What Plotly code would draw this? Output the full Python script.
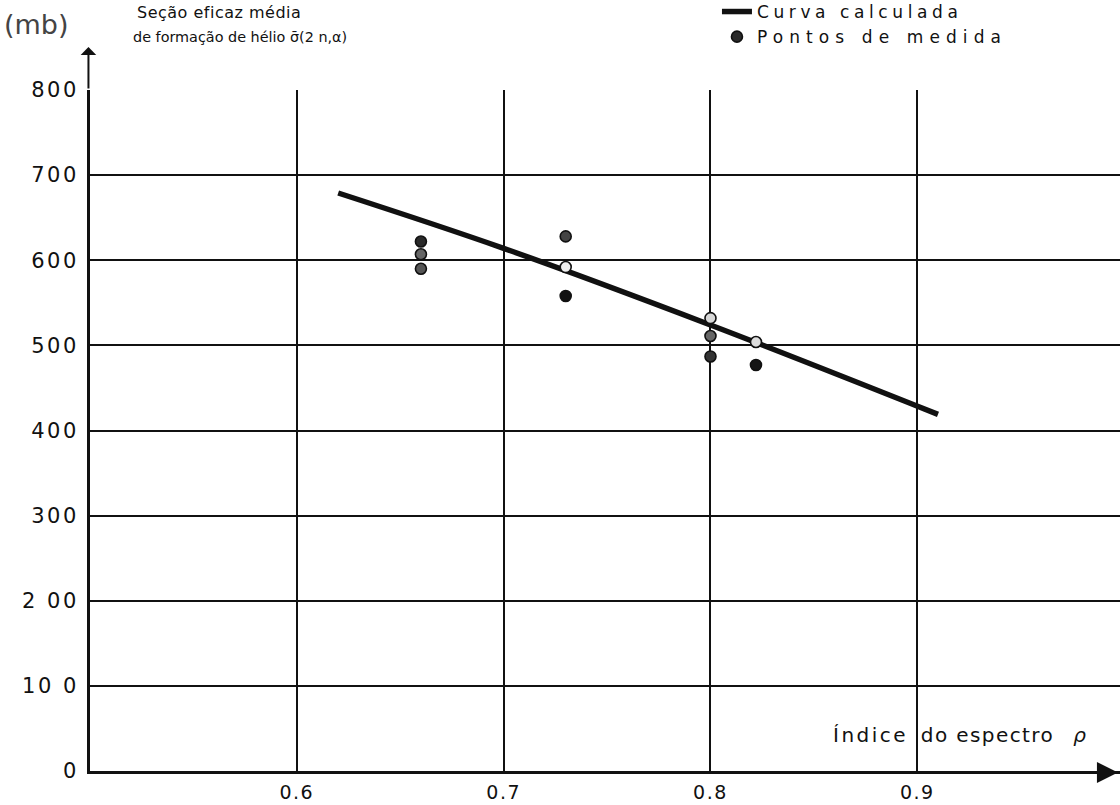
import plotly.graph_objects as go

# ---- data ----
x_ticks = [0.6, 0.7, 0.8, 0.9]
x_ticklabels = ["0.6", "0.7", "0.8", "0.9"]
y_ticks = [0, 100, 200, 300, 400, 500, 600, 700, 800]
y_ticklabels = ["0", "10 0", "2 00", "300", "400", "500", "600", "700", "800"]

curve_x = [0.62, 0.70, 0.80, 0.91]
curve_y = [679, 614, 524, 419]

points_x = [0.66, 0.66, 0.66, 0.73, 0.73, 0.73, 0.80, 0.80, 0.80, 0.822, 0.822]
points_y = [622, 607, 590, 628, 592, 558, 532, 511, 487, 504, 477]

curve_name = "Curva calculada"
points_name = "Pontos de medida"
title_line1 = "Seção eficaz média"
title_line2 = "de formação de hélio σ̄(2 n,α)"
x_label_a = "Índice"
x_label_b = "do espectro"
x_label_sym = "ρ"
unit_label = "(mb)"

# ---- styling ----
FONT = "DejaVu Sans"
INK = "#111111"
point_fill = ["#2a2a2a", "#666666", "#555555", "#444444", "#eeeeee", "#111111",
              "#d8d8d8", "#666666", "#333333", "#dddddd", "#151515"]


def spaced(text, px):
    return f"<span style='letter-spacing:{px}px'>{text}</span>"


fig = go.Figure()

fig.add_trace(go.Scatter(
    x=curve_x, y=curve_y, mode="lines", name=spaced(curve_name, 4.6),
    line=dict(color=INK, width=5.5), line_shape="spline",
))
fig.add_trace(go.Scatter(
    x=points_x, y=points_y, mode="markers", name=spaced(points_name, 6.1),
    marker=dict(size=11, color=point_fill, line=dict(color=INK, width=1.6)),
))

fig.update_layout(
    width=1120, height=805,
    margin=dict(l=90, r=0, t=90, b=34, autoexpand=False),
    paper_bgcolor="white", plot_bgcolor="white",
    font=dict(family=FONT, color=INK, size=17),
    showlegend=True,
    legend=dict(
        x=0.6087, y=1.141, xanchor="left", yanchor="top",
        bgcolor="rgba(0,0,0,0)", borderwidth=0, itemwidth=30,
        font=dict(family=FONT, size=17, color=INK), tracegroupgap=0,
    ),
    xaxis=dict(
        range=[0.5, 0.998], tickvals=x_ticks,
        ticktext=[spaced(t, 1.5) for t in x_ticklabels],
        showgrid=True, gridcolor=INK, gridwidth=2,
        showline=True, linecolor=INK, linewidth=3,
        zeroline=False, ticks="", ticklabelstandoff=2, automargin=False,
        tickfont=dict(family=FONT, size=19, color=INK),
    ),
    yaxis=dict(
        range=[0, 800], tickvals=y_ticks,
        ticktext=[spaced(t, 2.5) for t in y_ticklabels],
        showgrid=True, gridcolor=INK, gridwidth=2,
        showline=True, linecolor=INK, linewidth=3,
        zeroline=False, ticks="", ticklabelstandoff=4, automargin=False,
        tickfont=dict(family=FONT, size=21, color=INK),
    ),
)

annotations = [
    dict(text=spaced(title_line1, 0.5), x=135, y=12, size=16),
    dict(text=title_line2, x=131, y=37, size=14.4),
]
ann = []
for a in annotations:
    ann.append(dict(
        text=a["text"], xref="paper", yref="paper",
        x=(a["x"] - 90) / 1030, y=(771 - a["y"]) / 681,
        xanchor="left", yanchor="middle", showarrow=False,
        font=dict(family=FONT, size=a["size"], color=INK),
    ))
# unit label
ann.append(dict(
    text=unit_label, xref="paper", yref="paper",
    x=(2 - 90) / 1030, y=(771 - 25) / 681, xanchor="left", yanchor="middle",
    showarrow=False, font=dict(family=FONT, size=27, color="#444444"),
))
# x-axis title inside the plot
ann.append(dict(
    text=spaced(x_label_a, 2.5) + "\u00a0\u00a0" + spaced(x_label_b, 1.4)
    + "\u00a0\u00a0\u00a0<i>" + x_label_sym + "</i>",
    xref="x", yref="y", x=0.8585, y=42, xanchor="left", yanchor="middle",
    showarrow=False, font=dict(family=FONT, size=20, color=INK),
))
# y-axis arrow
ann.append(dict(
    text="", xref="paper", yref="paper", x=-0.0015, y=1.063,
    ax=0, ay=43, showarrow=True, arrowhead=1, arrowsize=1.3,
    arrowwidth=2, arrowcolor=INK, standoff=0,
))
# x-axis arrow
ann.append(dict(
    text="", xref="paper", yref="paper", x=0.998, y=-0.0022,
    ax=-30, ay=0, showarrow=True, arrowhead=2, arrowsize=1.4,
    arrowwidth=3, arrowcolor=INK, standoff=0,
))
fig.update_layout(annotations=ann)

fig.write_html("out.html")
